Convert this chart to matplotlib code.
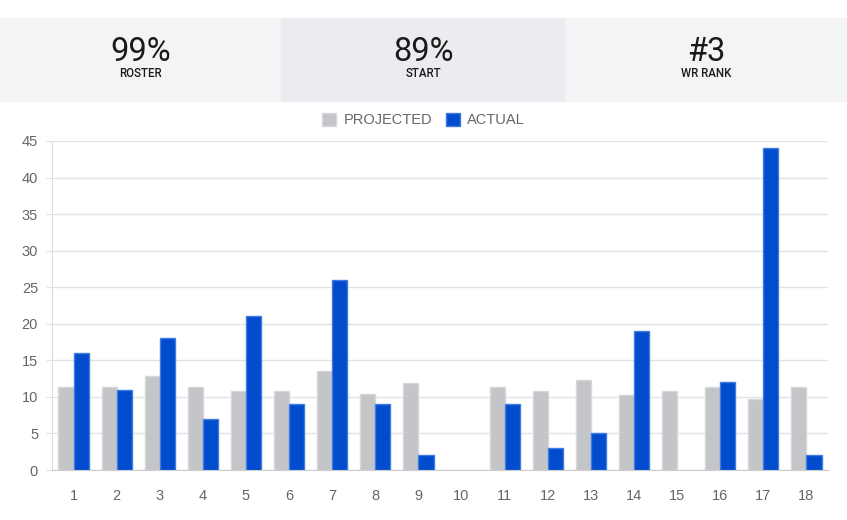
import numpy as np
import matplotlib.pyplot as plt
from matplotlib.patches import Rectangle

weeks = [str(w) for w in range(1, 19)]
projected = [11.3, 11.3, 12.9, 11.3, 10.8, 10.8, 13.5, 10.35, 11.9, 0,
             11.3, 10.8, 12.35, 10.3, 10.8, 11.3, 9.75, 11.3]
actual = [16, 11, 18, 7, 21, 9, 26, 9, 2, 0, 9, 3, 5, 19, 0, 12, 44, 2]

stat_values = ['99%', '89%', '#3']
stat_labels = ['ROSTER', 'START', 'WR RANK']

plt.rcParams['font.family'] = ['Liberation Sans', 'DejaVu Sans']

fig = plt.figure(figsize=(8.47, 5.2), dpi=100)
W, H = 847, 520

# header band with three stat boxes
panels = [(0, 281, '#f3f4f6'), (281, 565, '#ebecef'), (565, 847, '#f3f4f6')]
for (x0, x1, col), val, lab in zip(panels, stat_values, stat_labels):
    fig.patches.append(Rectangle((x0 / W, 1 - 101 / H), (x1 - x0) / W, 83 / H,
                                 transform=fig.transFigure, color=col, zorder=0))
    cx = (x0 + x1) / 2 / W
    fig.text(cx, 1 - 52 / H, val, ha='center', va='center', fontsize=23.5,
             color='#1a1a1a', family='Roboto')
    fig.text(cx, 1 - 74 / H, lab, ha='center', va='center', fontsize=8.3,
             color='#1a1a1a', family='Roboto', fontweight='medium')

ax = fig.add_axes([52 / W, 1 - 470 / H, (828 - 52) / W, (470 - 141) / H])
x = np.arange(len(weeks))
bw = 0.35
lw_p = [1 if v > 0 else 0 for v in projected]
lw_a = [1 if v > 0 else 0 for v in actual]
ax.bar(x - bw / 2, projected, bw, color='#c4c5c8', edgecolor='#d6d7d9',
       linewidth=lw_p, label='PROJECTED', zorder=3)
ax.bar(x + bw / 2, actual, bw, color='#004ccc', edgecolor='#3f7be0',
       linewidth=lw_a, label='ACTUAL', zorder=3)

ax.set_xlim(-0.5, len(weeks) - 0.5)
ax.set_ylim(0, 45)
ax.set_yticks(range(0, 46, 5))
ax.set_xticks(x)
ax.set_xticklabels(weeks)
ax.grid(axis='y', color='#e3e3e3', linewidth=1, zorder=0)
ax.tick_params(axis='y', length=4, color='#e3e3e3', labelsize=10.5,
               labelcolor='#666666', pad=6)
ax.tick_params(axis='x', length=0, labelsize=10.5, labelcolor='#666666', pad=14)
for s in ['top', 'right']:
    ax.spines[s].set_visible(False)
ax.spines['left'].set_color('#dddddd')
ax.spines['bottom'].set_color('#cccccc')

leg = fig.legend(loc='center', bbox_to_anchor=(0.5, 1 - 120 / H), ncol=2,
                 frameon=False, fontsize=10.5, handlelength=1.0,
                 handleheight=1.0, handletextpad=0.5, columnspacing=0.9)
for t in leg.get_texts():
    t.set_color('#666666')

fig.savefig('out.png', dpi=100)
